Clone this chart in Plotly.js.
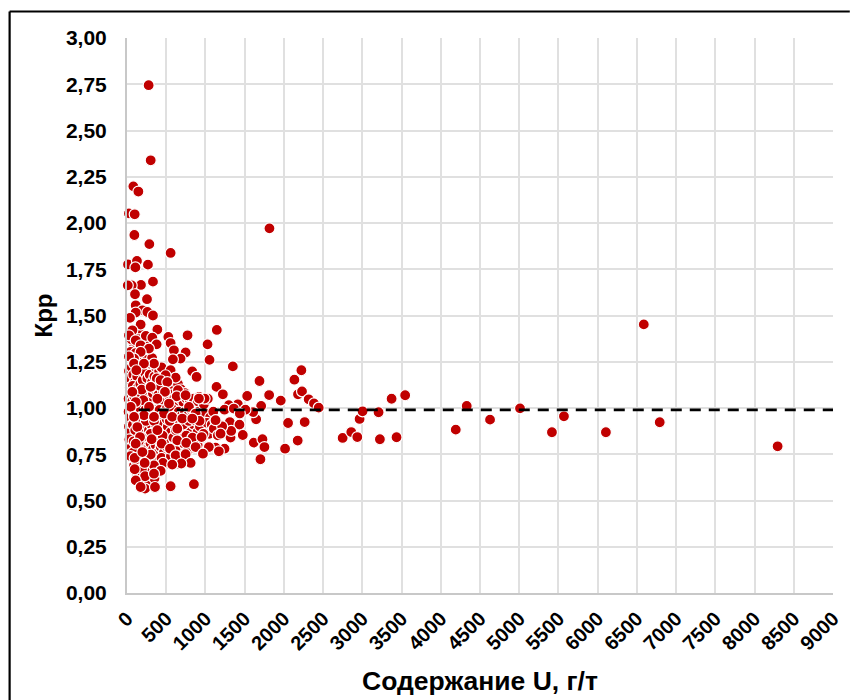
<!DOCTYPE html>
<html><head><meta charset="utf-8">
<script src="https://cdn.plot.ly/plotly-3.0.1.min.js"></script>
<style>html,body{margin:0;padding:0;background:#fff}#chart{width:850px;height:700px}</style>
</head><body><div id="chart"></div>
<script>
const fillPts = [
[25,1.20],[40,1.16],[60,1.22],[80,1.18],[100,1.14],[130,1.17],[160,1.21],[35,1.11],[55,1.08],[75,1.12],[110,1.09],[140,1.11],[170,1.13],[200,1.15],[230,1.19],[260,1.16],[290,1.18],[320,1.14],[350,1.17],[20,1.05],[45,1.02],[70,1.04],[95,1.06],[125,1.03],[150,1.05],[180,1.07],[210,1.03],[240,1.06],[270,1.08],[300,1.05],[330,1.08],[360,1.10],[400,1.07],[430,1.04],[460,1.09],[500,1.11],[530,1.07],[570,1.09],[600,1.05],[640,1.02],[680,1.05],[720,1.03],[760,1.05],[800,1.03],[850,1.05],[900,1.03],
[20,0.98],[40,0.95],[65,0.99],[90,0.97],[115,1.00],[145,0.97],[175,0.99],[205,0.96],[235,0.99],[265,0.96],[295,0.98],[325,0.95],[355,0.99],[385,0.96],[415,0.99],[445,0.95],[480,0.98],[510,1.00],[550,0.98],[590,0.99],[620,0.96],[660,0.98],[700,0.96],[740,0.98],[780,0.96],[820,0.99],[860,0.96],[910,0.98],[950,0.95],[1000,0.97],[1060,0.95],[1100,0.98],
[25,0.90],[50,0.87],[75,0.91],[105,0.88],[135,0.92],[160,0.89],[190,0.92],[220,0.88],[250,0.91],[280,0.88],[310,0.91],[340,0.87],[370,0.91],[410,0.88],[440,0.91],[480,0.87],[520,0.90],[560,0.87],[600,0.91],[650,0.86],[690,0.89],[730,0.86],[770,0.90],[810,0.87],[850,0.91],[900,0.87],[1000,0.89],[1050,0.86],
[30,0.83],[60,0.79],[85,0.82],[120,0.79],[145,0.76],[175,0.80],[205,0.77],[240,0.81],[270,0.78],[300,0.81],[335,0.78],[365,0.80],[400,0.76],[430,0.79],[470,0.76],[510,0.79],[540,0.82],[580,0.78],[610,0.81],[670,0.78],[710,0.81],[800,0.78],[840,0.80],[900,0.80],
[70,0.73],[90,0.69],[130,0.72],[160,0.68],[190,0.72],[255,0.73],[285,0.70],[315,0.73],[380,0.72],[410,0.68],[490,0.72],[525,0.70],[600,0.72],[650,0.70],[130,0.64],[160,0.66],[195,0.63],[260,0.66],[290,0.62],[320,0.67],[380,0.66],[205,0.59],[150,0.60],[280,0.60],
[55,1.30],[90,1.33],[120,1.28],[150,1.31],[190,1.27],[225,1.30],[255,1.26],[290,1.24],[320,1.27],[370,1.22],[410,1.20],[450,1.17],[60,1.37],[90,1.41],[130,1.38],[150,1.43],[220,1.35],[240,1.39],
[420,1.12],[480,1.15],[545,1.13],[590,1.16],[650,1.13],[690,1.10],[740,1.08],[520,1.18],[380,1.16],[440,1.22],[920,1.06],[980,1.02],[1030,1.05],
[240,0.93],[300,0.86],[345,0.93],[395,0.83],[455,0.85],[505,0.94],[545,0.93],[590,0.84],[625,0.88],[675,0.93],[715,0.91],[755,0.85],[790,0.93],[835,0.84],[880,0.93],[930,0.90],[975,0.86],[1020,0.92],[1080,0.91],
[190,0.84],[150,0.82],[80,0.76],[110,0.72],[45,0.74],[230,0.74],[350,0.71],[440,0.73],[560,0.74],[620,0.77],[700,0.74],[760,0.76],[240,0.68],[300,0.65],[350,0.62],[190,0.67]
];
const outlierX = [276,302,81,145,25,98,94,285,556,1816,13,127,107,267,331,178,60,10,102,255,111,196,260,111,331,38,174,387,69,25,527,772,1145,323,556,378,1027,111,174,598,747,280,47,111,174,683,585,1052,344,89,25,89,216,119,832,887,556,620,492,429,514];
const outlierY = [2.745,2.339,2.198,2.17,2.052,2.047,1.935,1.886,1.838,1.971,1.776,1.795,1.76,1.775,1.683,1.665,1.663,1.663,1.615,1.588,1.555,1.528,1.519,1.516,1.50,1.487,1.451,1.424,1.42,1.393,1.384,1.393,1.422,1.38,1.351,1.344,1.344,1.366,1.339,1.312,1.30,1.321,1.303,1.297,1.303,1.267,1.263,1.26,1.24,1.267,1.279,1.24,1.24,1.204,1.198,1.168,1.204,1.164,1.177,1.15,1.14];
const lowerX = [187,68,302,484,650,633,989,917,747,208,111,387,535,790,47,281,471,217,90,344,577,705,875,1129,925,832,387,641,132,1193,166,951,314,641,442,756,111,1044,548,875,1171,302,98,196,620,968,747,459,811,692,577,344,225,98,230,429,344,111,230,357,556,853,174];
const lowerY = [1.099,1.087,1.114,1.087,1.096,1.063,1.051,1.051,1.069,1.042,1.032,1.05,1.024,1.006,1.006,1.006,0.97,0.96,0.952,0.952,0.952,0.943,0.97,0.934,0.93,0.943,0.88,0.888,0.897,0.861,0.843,0.843,0.831,0.825,0.807,0.811,0.807,0.789,0.78,0.789,0.766,0.748,0.73,0.762,0.744,0.753,0.75,0.703,0.703,0.7,0.694,0.69,0.703,0.669,0.631,0.66,0.645,0.609,0.564,0.573,0.577,0.588,0.573];
const midX = [1349,1689,2223,2134,1141,1222,1532,1812,1960,2180,2231,2316,2384,2444,1710,1646,1608,1413,1298,1243,1510,1362,1438,1129,1311,1434,2053,2265,1192,1320,1328,1476,1616,1727,1752,2176,2015,1701,1184,1243,1129,1107,1213,1158];
const midY = [1.225,1.146,1.204,1.153,1.114,1.074,1.065,1.07,1.04,1.074,1.09,1.047,1.025,1.002,1.011,0.939,0.978,1.02,1.015,0.991,0.991,0.997,0.97,0.933,0.924,0.91,0.919,0.924,0.858,0.84,0.876,0.854,0.813,0.831,0.789,0.824,0.78,0.723,0.764,0.78,0.786,0.888,0.901,0.852];
const farX = [2749,2859,2936,2965,3003,3207,3224,3436,3373,3546,4191,4331,4628,5010,5417,5570,6105,6588,6791,8294];
const farY = [0.838,0.87,0.843,0.941,0.982,0.977,0.831,0.842,1.05,1.069,0.883,1.011,0.937,0.998,0.869,0.955,0.869,1.452,0.923,0.793];
const refX = [150,9000];
const refY = [0.99,0.99];
const xTicks = [0,500,1000,1500,2000,2500,3000,3500,4000,4500,5000,5500,6000,6500,7000,7500,8000,8500,9000];
const yTicks = [0,0.25,0.5,0.75,1,1.25,1.5,1.75,2,2.25,2.5,2.75,3];

const xs = fillPts.map(p=>p[0]).concat(farX, midX, outlierX, lowerX);
const ys = fillPts.map(p=>p[1]).concat(farY, midY, outlierY, lowerY);
const W=850,H=700,L=126.5,R=833.2,T=37.5,B=592.7;
const font='"Liberation Sans", Arial, sans-serif';
Plotly.newPlot('chart',[
 {type:'scatter',mode:'markers',x:xs,y:ys,cliponaxis:false,
  marker:{color:'#c00000',size:11,line:{color:'#ffffff',width:1.2}},hoverinfo:'x+y'},
 {type:'scatter',mode:'lines',x:refX,y:refY,line:{color:'#000000',width:2.7,dash:'11px,8px'},hoverinfo:'skip'}
],{
 width:W,height:H,showlegend:false,paper_bgcolor:'#fff',plot_bgcolor:'#fff',separators:', ',
 margin:{l:L,r:W-R,t:T,b:H-B,autoexpand:false},
 font:{family:font,color:'#000'},
 xaxis:{range:[0,9000],tickmode:'array',tickvals:xTicks,ticktext:xTicks.map(String),tickangle:-45,
  tickfont:{size:20,family:font,weight:'bold',color:'#000'},ticks:'',ticklen:0,ticklabelstandoff:4,
  showgrid:true,gridcolor:'#e0e0e0',gridwidth:2,zeroline:false,showline:true,linecolor:'#c8c8c8',linewidth:2,
  title:{text:'<b>Содержание U, г/т</b>',font:{size:26.5,family:font,color:'#000'},standoff:18},automargin:false},
 yaxis:{range:[0,3],tickmode:'array',tickvals:yTicks,tickformat:'.2f',
  tickfont:{size:21,family:font,weight:'bold',color:'#000'},ticks:'',ticklen:0,ticklabelstandoff:14,
  showgrid:true,gridcolor:'#e0e0e0',gridwidth:2,zeroline:false,showline:true,linecolor:'#c8c8c8',linewidth:2,
  title:{text:'<b>Крр</b>',font:{size:24,family:font,color:'#000'},standoff:7},automargin:false},
 shapes:[
  {type:'line',xref:'paper',yref:'paper',x0:(9-L)/(R-L),x1:(9-L)/(R-L),y0:(B-H)/(B-T),y1:(B-11)/(B-T),line:{color:'#000',width:2.2}},
  {type:'line',xref:'paper',yref:'paper',x0:(9-L)/(R-L),x1:(850-L)/(R-L),y0:(B-11)/(B-T),y1:(B-11)/(B-T),line:{color:'#000',width:2.2}}
 ]
},{displayModeBar:false,staticPlot:true});
</script></body></html>
